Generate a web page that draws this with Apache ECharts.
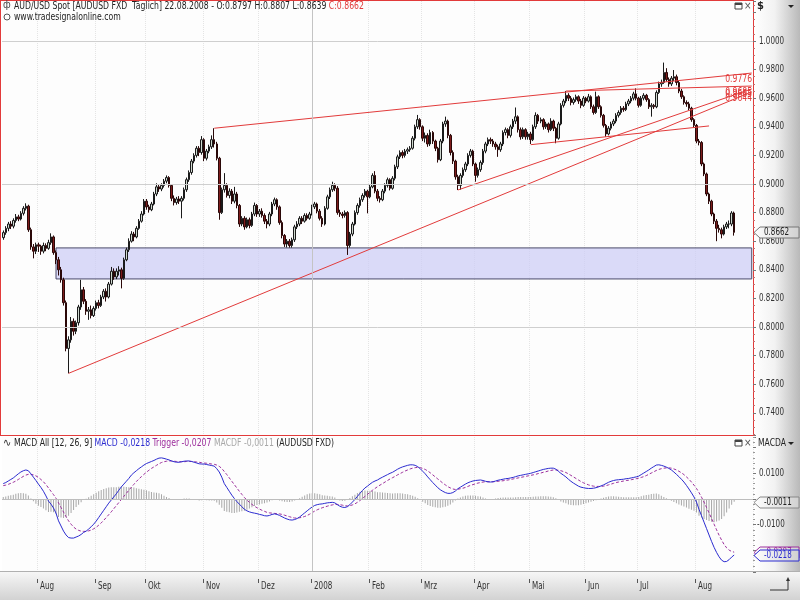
<!DOCTYPE html>
<html><head><meta charset="utf-8">
<script src="https://cdn.jsdelivr.net/npm/echarts@6/dist/echarts.min.js"></script>
<style>html,body{margin:0;padding:0;background:#fff}#c{width:800px;height:600px}</style>
</head><body><div id="c"></div>
<script>
// ---------- DATA ----------
const startDay = '2007-07-12';
const slotCount = 299;
const openP = [
.8625,.8660,.8690,.8720,.8705,.8745,.8770,.8755,.8795,.8830,
.8845,.8680,.8560,.8530,.8575,.8565,.8530,.8570,.8550,.8590,
.8630,.8520,.8470,.8400,.8330,.8170,.7850,.7910,.8040,.7970,
.8030,.8140,.8260,.8180,.8110,.8120,.8080,.8130,.8170,.8150,
.8210,.8250,.8210,.8300,.8390,.8350,.8390,.8400,.8340,.8470,
.8540,.8600,.8650,.8630,.8690,.8740,.8790,.8880,.8840,.8820,
.8860,.8930,.8980,.8965,.8990,.9020,.9045,.8990,.8900,.8870,
.8895,.8880,.8900,.8960,.9030,.9080,.9160,.9200,.9250,.9220,
.9310,.9180,.9230,.9260,.9310,.9280,.9180,.8800,.8960,.8990,
.8920,.8950,.8880,.8930,.8850,.8720,.8760,.8700,.8750,.8710,
.8790,.8850,.8790,.8810,.8780,.8740,.8720,.8790,.8860,.8890,
.8840,.8730,.8640,.8580,.8600,.8570,.8610,.8700,.8720,.8760,
.8740,.8780,.8760,.8790,.8840,.8860,.8810,.8760,.8720,.8830,
.8910,.8960,.8990,.8970,.8800,.8790,.8780,.8800,.8570,.8650,
.8720,.8800,.8850,.8890,.8920,.8950,.8910,.8980,.9060,.8950,
.8900,.8890,.8950,.8990,.9030,.8970,.9040,.9120,.9190,.9220,
.9200,.9230,.9240,.9250,.9320,.9400,.9450,.9400,.9320,.9340,
.9280,.9360,.9300,.9250,.9170,.9300,.9420,.9440,.9340,.9220,
.9160,.9050,.8990,.9060,.9100,.9140,.9200,.9230,.9140,.9060,
.9100,.9150,.9230,.9280,.9310,.9300,.9280,.9260,.9240,.9280,
.9360,.9380,.9340,.9400,.9440,.9470,.9380,.9330,.9380,.9330,
.9350,.9310,.9400,.9480,.9440,.9450,.9400,.9420,.9380,.9440,
.9390,.9320,.9420,.9550,.9580,.9620,.9600,.9570,.9590,.9610,
.9580,.9550,.9600,.9580,.9610,.9540,.9500,.9610,.9540,.9480,
.9410,.9350,.9390,.9420,.9440,.9480,.9500,.9530,.9520,.9560,
.9580,.9600,.9630,.9600,.9550,.9600,.9620,.9590,.9540,.9550,
.9540,.9640,.9700,.9710,.9780,.9730,.9700,.9740,.9750,.9710,
.9650,.9610,.9570,.9560,.9530,.9450,.9410,.9300,.9290,.9140,
.9070,.8930,.8880,.8790,.8740,.8690,.8680,.8650,.8700,.8720,
.8720,.8797];
const closeP = [
.8660,.8690,.8720,.8705,.8745,.8770,.8755,.8795,.8830,.8845,
.8680,.8560,.8530,.8575,.8565,.8530,.8570,.8550,.8590,.8630,
.8520,.8470,.8400,.8330,.8170,.7850,.7910,.8040,.7970,.8030,
.8140,.8260,.8180,.8110,.8120,.8080,.8130,.8170,.8150,.8210,
.8250,.8210,.8300,.8390,.8350,.8390,.8400,.8340,.8470,.8540,
.8600,.8650,.8630,.8690,.8740,.8790,.8880,.8840,.8820,.8860,
.8930,.8980,.8965,.8990,.9020,.9045,.8990,.8900,.8870,.8895,
.8880,.8900,.8960,.9030,.9080,.9160,.9200,.9250,.9220,.9310,
.9180,.9230,.9260,.9310,.9280,.9180,.8800,.8960,.8990,.8920,
.8950,.8880,.8930,.8850,.8720,.8760,.8700,.8750,.8710,.8790,
.8850,.8790,.8810,.8780,.8740,.8720,.8790,.8860,.8890,.8840,
.8730,.8640,.8580,.8600,.8570,.8610,.8700,.8720,.8760,.8740,
.8780,.8760,.8790,.8840,.8860,.8810,.8760,.8720,.8830,.8910,
.8960,.8990,.8970,.8800,.8790,.8780,.8800,.8570,.8650,.8720,
.8800,.8850,.8890,.8920,.8950,.8910,.8980,.9060,.8950,.8900,
.8890,.8950,.8990,.9030,.8970,.9040,.9120,.9190,.9220,.9200,
.9230,.9240,.9250,.9320,.9400,.9450,.9400,.9320,.9340,.9280,
.9360,.9300,.9250,.9170,.9300,.9420,.9440,.9340,.9220,.9160,
.9050,.8990,.9060,.9100,.9140,.9200,.9230,.9140,.9060,.9100,
.9150,.9230,.9280,.9310,.9300,.9280,.9260,.9240,.9280,.9360,
.9380,.9340,.9400,.9440,.9470,.9380,.9330,.9380,.9330,.9350,
.9310,.9400,.9480,.9440,.9450,.9400,.9420,.9380,.9440,.9390,
.9320,.9420,.9550,.9580,.9620,.9600,.9570,.9590,.9610,.9580,
.9550,.9600,.9580,.9610,.9540,.9500,.9610,.9540,.9480,.9410,
.9350,.9390,.9420,.9440,.9480,.9500,.9530,.9520,.9560,.9580,
.9600,.9630,.9600,.9550,.9600,.9620,.9590,.9540,.9550,.9540,
.9640,.9700,.9710,.9780,.9730,.9700,.9740,.9750,.9710,.9650,
.9610,.9570,.9560,.9530,.9450,.9410,.9300,.9290,.9140,.9070,
.8930,.8880,.8790,.8740,.8690,.8680,.8650,.8700,.8720,.8720,
.8797,.8662];
const lowP = [
.8610,.8645,.8670,.8685,.8690,.8730,.8740,.8745,.8780,.8815,
.8665,.8540,.8480,.8510,.8525,.8505,.8515,.8530,.8540,.8575,
.8505,.8440,.8360,.8310,.8150,.7830,.7676,.7890,.7940,.7950,
.8010,.8120,.8160,.8085,.8050,.8060,.8070,.8115,.8130,.8140,
.8195,.8178,.8200,.8290,.8330,.8335,.8360,.8270,.8330,.8460,
.8525,.8590,.8600,.8620,.8680,.8730,.8780,.8820,.8800,.8810,
.8850,.8915,.8945,.8950,.8975,.9005,.8975,.8880,.8850,.8855,
.8860,.8760,.8885,.8945,.9015,.9065,.9145,.9185,.9195,.9205,
.9160,.9165,.9215,.9245,.9255,.9165,.8750,.8790,.8940,.8905,
.8900,.8860,.8865,.8830,.8700,.8705,.8680,.8690,.8690,.8700,
.8775,.8770,.8770,.8765,.8720,.8690,.8705,.8775,.8845,.8820,
.8715,.8620,.8560,.8556,.8555,.8555,.8595,.8685,.8705,.8720,
.8730,.8745,.8750,.8780,.8825,.8795,.8745,.8700,.8710,.8820,
.8895,.8945,.8950,.8785,.8770,.8760,.8765,.8504,.8555,.8635,
.8710,.8785,.8835,.8875,.8905,.8795,.8900,.8970,.8935,.8880,
.8870,.8880,.8935,.8975,.8955,.8960,.9025,.9105,.9175,.9180,
.9185,.9210,.9225,.9240,.9305,.9385,.9380,.9300,.9290,.9260,
.9265,.9280,.9230,.9150,.9160,.9285,.9400,.9320,.9200,.9140,
.9030,.8958,.8960,.9045,.9085,.9125,.9185,.9125,.9016,.9045,
.9085,.9135,.9215,.9265,.9280,.9260,.9240,.9190,.9225,.9265,
.9340,.9320,.9325,.9385,.9420,.9360,.9310,.9315,.9310,.9310,
.9280,.9300,.9385,.9420,.9425,.9380,.9385,.9360,.9370,.9370,
.9285,.9310,.9410,.9535,.9565,.9580,.9550,.9555,.9575,.9560,
.9530,.9540,.9565,.9570,.9525,.9485,.9490,.9525,.9465,.9395,
.9330,.9340,.9375,.9405,.9425,.9465,.9485,.9505,.9510,.9545,
.9565,.9585,.9585,.9535,.9540,.9585,.9575,.9525,.9471,.9525,
.9530,.9630,.9680,.9700,.9715,.9680,.9685,.9720,.9690,.9635,
.9595,.9555,.9540,.9515,.9435,.9395,.9285,.9270,.9125,.9055,
.8915,.8860,.8775,.8720,.8600,.8660,.8620,.8640,.8685,.8690,
.8705,.8639];
const highP = [
.8675,.8705,.8735,.8740,.8760,.8790,.8785,.8810,.8845,.8865,
.8855,.8695,.8580,.8590,.8590,.8575,.8590,.8585,.8610,.8655,
.8640,.8535,.8490,.8420,.8345,.8185,.7935,.8070,.8060,.8045,
.8155,.8330,.8280,.8195,.8140,.8150,.8145,.8185,.8190,.8225,
.8265,.8270,.8315,.8420,.8410,.8410,.8425,.8415,.8485,.8555,
.8620,.8670,.8665,.8705,.8755,.8810,.8895,.8895,.8855,.8875,
.8945,.9005,.8995,.9005,.9035,.9060,.9055,.9000,.8920,.8910,
.8915,.8915,.8975,.9045,.9095,.9175,.9215,.9265,.9265,.9335,
.9320,.9245,.9275,.9340,.9390,.9295,.9190,.8975,.9076,.9005,
.8970,.8965,.8980,.8945,.8860,.8775,.8775,.8765,.8765,.8805,
.8870,.8860,.8825,.8830,.8795,.8755,.8805,.8875,.8905,.8900,
.8850,.8745,.8650,.8615,.8615,.8625,.8715,.8740,.8775,.8775,
.8795,.8795,.8805,.8855,.8875,.8870,.8825,.8775,.8845,.8925,
.8975,.9016,.9005,.8985,.8820,.8805,.8815,.8810,.8665,.8735,
.8815,.8865,.8905,.8935,.8965,.8960,.8995,.9075,.9090,.8965,
.8915,.8965,.9005,.9045,.9040,.9055,.9135,.9205,.9235,.9235,
.9245,.9255,.9265,.9335,.9415,.9483,.9460,.9410,.9360,.9355,
.9380,.9370,.9310,.9260,.9315,.9435,.9471,.9450,.9350,.9235,
.9170,.9065,.9075,.9115,.9155,.9215,.9245,.9240,.9150,.9115,
.9165,.9245,.9295,.9325,.9325,.9315,.9295,.9275,.9295,.9375,
.9395,.9390,.9415,.9455,.9535,.9480,.9395,.9395,.9390,.9365,
.9365,.9415,.9501,.9490,.9465,.9460,.9435,.9430,.9460,.9450,
.9400,.9435,.9565,.9595,.9650,.9635,.9615,.9605,.9625,.9620,
.9595,.9615,.9610,.9630,.9620,.9555,.9646,.9620,.9550,.9490,
.9420,.9405,.9435,.9455,.9495,.9515,.9545,.9545,.9575,.9595,
.9615,.9645,.9669,.9610,.9615,.9635,.9630,.9600,.9565,.9560,
.9655,.9716,.9730,.9849,.9810,.9745,.9755,.9797,.9765,.9720,
.9665,.9620,.9585,.9575,.9540,.9460,.9420,.9315,.9300,.9150,
.9080,.8940,.8890,.8800,.8755,.8715,.8695,.8715,.8735,.8745,
.8810,.8807];
const macdLine = [
.0060,.0064,.0070,.0076,.0082,.0090,.0098,.0105,.0110,.0113,
.0110,.0098,.0085,.0072,.0058,.0045,.0030,.0012,-.0008,-.0020,
-.0035,-.0055,-.0085,-.0105,-.0125,-.0140,-.0150,-.0152,-.0152,-.0148,
-.0144,-.0138,-.0130,-.0125,-.0117,-.0108,-.0098,-.0086,-.0072,-.0058,
-.0044,-.0030,-.0016,-.0004,.0008,.0020,.0034,.0047,.0058,.0069,
.0080,.0093,.0102,.0110,.0118,.0125,.0132,.0138,.0142,.0146,
.0150,.0155,.0159,.0160,.0158,.0155,.0152,.0148,.0145,.0143,
.0143,.0145,.0147,.0148,.0148,.0146,.0143,.0140,.0137,.0136,
.0136,.0134,.0132,.0130,.0128,.0118,.0105,.0085,.0060,.0045,
.0030,.0015,.0002,-.0010,-.0020,-.0030,-.0040,-.0046,-.0050,-.0053,
-.0055,-.0057,-.0060,-.0062,-.0065,-.0066,-.0064,-.0060,-.0058,-.0060,
-.0064,-.0069,-.0074,-.0078,-.0081,-.0082,-.0080,-.0076,-.0070,-.0062,
-.0054,-.0046,-.0038,-.0031,-.0025,-.0022,-.0020,-.0019,-.0017,-.0015,
-.0014,-.0013,-.0015,-.0022,-.0028,-.0032,-.0033,-.0030,-.0022,-.0012,
-.0002,.0010,.0022,.0033,.0043,.0050,.0058,.0065,.0070,.0074,
.0080,.0085,.0090,.0095,.0100,.0104,.0110,.0116,.0121,.0125,
.0128,.0131,.0133,.0133,.0131,.0126,.0118,.0108,.0098,.0086,
.0075,.0064,.0054,.0044,.0036,.0030,.0025,.0022,.0022,.0025,
.0031,.0040,.0046,.0052,.0058,.0063,.0067,.0070,.0072,.0073,
.0074,.0072,.0069,.0067,.0066,.0067,.0070,.0073,.0075,.0077,
.0079,.0080,.0082,.0084,.0087,.0090,.0092,.0094,.0096,.0098,
.0100,.0103,.0106,.0109,.0112,.0115,.0117,.0119,.0120,.0120,
.0116,.0108,.0100,.0093,.0086,.0077,.0069,.0062,.0056,.0050,
.0046,.0044,.0042,.0041,.0041,.0042,.0044,.0047,.0051,.0055,
.0060,.0065,.0069,.0072,.0074,.0075,.0076,.0077,.0079,.0080,
.0082,.0084,.0086,.0089,.0095,.0101,.0107,.0113,.0120,.0126,
.0132,.0133,.0131,.0128,.0124,.0119,.0113,.0105,.0096,.0087,
.0077,.0066,.0053,.0039,.0024,.0008,-.0012,-.0040,-.0065,-.0090,
-.0115,-.0140,-.0165,-.0188,-.0208,-.0225,-.0238,-.0244,-.0243,-.0236,
-.0226,-.0218];
const triggerLine = [
.0052,.0054,.0057,.0061,.0065,.0070,.0076,.0082,.0088,.0093,
.0096,.0096,.0094,.0090,.0084,.0076,.0067,.0056,.0043,.0030,
.0017,.0003,-.0015,-.0033,-.0051,-.0069,-.0085,-.0098,-.0109,-.0117,
-.0122,-.0125,-.0126,-.0126,-.0124,-.0121,-.0116,-.0110,-.0102,-.0093,
-.0083,-.0072,-.0061,-.0050,-.0038,-.0026,-.0014,-.0002,.0010,.0022,
.0034,.0046,.0057,.0068,.0078,.0087,.0096,.0104,.0112,.0119,
.0125,.0131,.0137,.0142,.0145,.0147,.0148,.0148,.0147,.0146,
.0145,.0145,.0145,.0146,.0146,.0146,.0145,.0144,.0143,.0141,
.0140,.0139,.0138,.0136,.0135,.0132,.0127,.0119,.0107,.0095,
.0082,.0069,.0056,.0043,.0030,.0018,.0006,-.0004,-.0013,-.0021,
-.0028,-.0034,-.0039,-.0044,-.0048,-.0052,-.0054,-.0055,-.0056,-.0057,
-.0058,-.0060,-.0063,-.0066,-.0069,-.0072,-.0074,-.0074,-.0073,-.0071,
-.0068,-.0064,-.0059,-.0053,-.0047,-.0042,-.0038,-.0034,-.0031,-.0028,
-.0025,-.0023,-.0021,-.0021,-.0022,-.0024,-.0026,-.0027,-.0026,-.0023,
-.0019,-.0013,-.0006,.0002,.0010,.0018,.0026,.0034,.0041,.0048,
.0054,.0060,.0066,.0072,.0078,.0083,.0088,.0094,.0099,.0104,
.0109,.0113,.0117,.0120,.0122,.0123,.0122,.0119,.0115,.0109,
.0102,.0094,.0086,.0078,.0070,.0062,.0055,.0048,.0043,.0039,
.0037,.0038,.0040,.0042,.0045,.0049,.0053,.0056,.0059,.0062,
.0064,.0066,.0067,.0067,.0067,.0067,.0068,.0069,.0070,.0071,
.0073,.0074,.0076,.0078,.0080,.0082,.0084,.0086,.0088,.0090,
.0092,.0094,.0096,.0099,.0101,.0104,.0106,.0109,.0111,.0113,
.0113,.0112,.0110,.0107,.0103,.0098,.0092,.0086,.0080,.0074,
.0068,.0063,.0059,.0055,.0052,.0050,.0049,.0049,.0049,.0050,
.0052,.0055,.0058,.0061,.0064,.0066,.0068,.0070,.0072,.0073,
.0075,.0077,.0079,.0081,.0084,.0087,.0091,.0096,.0101,.0106,
.0111,.0115,.0118,.0120,.0121,.0121,.0120,.0117,.0113,.0108,
.0102,.0095,.0086,.0077,.0066,.0054,.0041,.0025,.0007,-.0012,
-.0033,-.0054,-.0076,-.0098,-.0120,-.0141,-.0160,-.0177,-.0190,-.0199,
-.0204,-.0207];
const macdHist = [
.0008,.0010,.0013,.0015,.0017,.0020,.0022,.0023,.0022,.0020,
.0014,.0002,-.0009,-.0018,-.0026,-.0031,-.0037,-.0044,-.0051,-.0050,
-.0052,-.0058,-.0070,-.0072,-.0074,-.0071,-.0065,-.0054,-.0043,-.0031,
-.0022,-.0013,-.0004,.0001,.0007,.0013,.0018,.0024,.0030,.0035,
.0039,.0042,.0045,.0046,.0046,.0046,.0048,.0049,.0048,.0047,
.0046,.0047,.0045,.0042,.0040,.0038,.0036,.0034,.0030,.0027,
.0025,.0024,.0022,.0018,.0013,.0008,.0004,.0000,-.0002,-.0003,
-.0002,.0000,.0002,.0002,.0002,.0000,-.0002,-.0004,-.0006,-.0005,
-.0004,-.0005,-.0006,-.0006,-.0007,-.0014,-.0022,-.0034,-.0047,-.0050,
-.0052,-.0054,-.0054,-.0053,-.0050,-.0048,-.0046,-.0042,-.0037,-.0032,
-.0027,-.0023,-.0021,-.0018,-.0017,-.0014,-.0010,-.0005,-.0002,-.0003,
-.0006,-.0009,-.0011,-.0012,-.0012,-.0010,-.0006,-.0002,.0003,.0009,
.0014,.0018,.0021,.0022,.0022,.0020,.0018,.0015,.0014,.0013,
.0011,.0010,.0006,-.0001,-.0006,-.0008,-.0007,-.0003,.0004,.0011,
.0017,.0023,.0028,.0031,.0033,.0032,.0032,.0031,.0029,.0026,
.0026,.0025,.0024,.0023,.0022,.0021,.0022,.0022,.0022,.0021,
.0019,.0018,.0016,.0013,.0009,.0003,-.0004,-.0011,-.0017,-.0023,
-.0027,-.0030,-.0032,-.0034,-.0034,-.0032,-.0030,-.0026,-.0021,-.0014,
-.0006,.0002,.0006,.0010,.0013,.0014,.0014,.0014,.0013,.0011,
.0010,.0006,.0002,.0000,-.0001,.0000,.0002,.0004,.0005,.0006,
.0006,.0006,.0006,.0006,.0007,.0008,.0008,.0008,.0008,.0008,
.0008,.0009,.0010,.0010,.0011,.0011,.0011,.0010,.0009,.0007,
.0003,-.0004,-.0010,-.0014,-.0017,-.0021,-.0023,-.0024,-.0024,-.0024,
-.0022,-.0019,-.0017,-.0014,-.0011,-.0008,-.0005,-.0002,.0002,.0005,
.0008,.0010,.0011,.0011,.0010,.0009,.0008,.0007,.0007,.0007,
.0007,.0007,.0007,.0008,.0011,.0014,.0016,.0017,.0019,.0020,
.0021,.0018,.0013,.0008,.0003,-.0002,-.0007,-.0012,-.0017,-.0021,
-.0025,-.0029,-.0033,-.0038,-.0042,-.0046,-.0053,-.0065,-.0072,-.0078,
-.0082,-.0086,-.0089,-.0090,-.0088,-.0084,-.0078,-.0067,-.0053,-.0037,
-.0022,-.0011];
const priceTicks = [1.00, 0.98, 0.96, 0.94, 0.92, 0.90, 0.88, 0.86, 0.84, 0.82, 0.80, 0.78, 0.76, 0.74];
const macdTicks = [0.01, -0.01];
const guideLevels = [1.0, 0.9, 0.8];
const zoneBox = {fromIdx: 21, toIdx: 298, top: 0.8553, bottom: 0.8336};
const trendLines = [
  {from: [84, 0.9390], to: [298, 0.9776], label: true},
  {from: [224, 0.9650], to: [298, 0.9685], label: true},
  {from: [181, 0.8958], to: [298, 0.9665], label: true},
  {from: [26, 0.7676], to: [298, 0.9644], label: true},
  {from: [210, 0.9275], to: [281, 0.9406], label: false}
];
const monthNames = ['2008','Feb','Mrz','Apr','Mai','Jun','Jul','Aug','Sep','Okt','Nov','Dez'];
const titleText = 'AUD/USD Spot [AUDUSD FXD  Täglich] 22.08.2008 - O:0.8797 H:0.8807 L:0.8639 ';
const titleClose = 'C:0.8662';
const macdInfo = {head: 'MACD All [12, 26, 9] ', macd: 'MACD -0,0218', trig: ' Trigger -0,0207', hist: ' MACDF -0,0011', tail: ' (AUDUSD FXD)'};

// ---------- BUILD ----------
function buildDates() {
  const p = startDay.split('-').map(Number);
  const d = new Date(Date.UTC(p[0], p[1]-1, p[2]));
  const out = [];
  while (out.length < slotCount) {
    const w = d.getUTCDay();
    if (w !== 0 && w !== 6) out.push(d.toISOString().slice(0,10));
    d.setUTCDate(d.getUTCDate()+1);
  }
  return out;
}
const dates = buildDates();
const N = closeP.length;
const monthStart = [];
for (let i = 1; i < N; i++) if (dates[i].slice(5,7) !== dates[i-1].slice(5,7)) monthStart.push(i);
const monthSet = new Set(monthStart);
const yearIdx = monthStart.find(i => dates[i].slice(5,7) === '01');
const candleData = closeP.map((c, i) => [openP[i], c, lowP[i], highP[i]]);
function monthLabel(v) { const m = +v.slice(5,7); return m === 1 ? monthNames[0] : monthNames[m-1]; }

const FONT = '"Liberation Sans Narrow","DejaVu Sans Condensed","Liberation Sans",sans-serif';
const RED = '#E23B3B';
const SX = 0.8, SXT = 0.86;

const PX_PER_UNIT = 1430, PRICE_ONE_Y = 41, G0_TOP = 1, G0_H = 434;
const pMax = 1 + (PRICE_ONE_Y - G0_TOP) / PX_PER_UNIT;
const pMin = 1 - (G0_TOP + G0_H - PRICE_ONE_Y) / PX_PER_UNIT;
const M_PX = 2570, M_ZERO_Y = 499, G1_TOP = 437, G1_H = 135;
const mMax = (M_ZERO_Y - G1_TOP) / M_PX;
const mMin = -(G1_TOP + G1_H - M_ZERO_Y) / M_PX;

const catAxis = (gi) => ({
  type: 'category', gridIndex: gi, data: dates, boundaryGap: true,
  axisLine: {show: false}, axisTick: {show: false}, axisLabel: {show: false},
  splitLine: {show: true, interval: (i) => monthSet.has(i) && i !== yearIdx, lineStyle: {color: '#E4E4E4', type: [1, 1]}}
});

const option = {
  animation: false,
  backgroundColor: '#FFFFFF',
  grid: [
    {left: 2, top: G0_TOP, width: 751, height: G0_H, backgroundColor: '#FDFDFD', show: true, borderWidth: 0},
    {left: 2, top: G1_TOP, width: 751, height: G1_H, backgroundColor: '#FDFDFD', show: true, borderWidth: 0}
  ],
  xAxis: [catAxis(0), catAxis(1)],
  yAxis: [
    {type: 'value', gridIndex: 0, position: 'right', min: pMin, max: pMax, splitNumber: 15, minInterval: 0.02, maxInterval: 0.02,
      axisLine: {show: true, lineStyle: {color: RED, width: 1}},
      axisTick: {show: true, length: 3, lineStyle: {color: '#777'}},
      minorTick: {show: true, splitNumber: 4, length: 2, lineStyle: {color: '#C07070'}},
      splitLine: {show: false}, axisLabel: {show: false}},
    {type: 'value', gridIndex: 1, position: 'right', min: mMin, max: mMax, splitNumber: 5,
      axisLine: {show: false},
      axisTick: {show: true, length: 3, lineStyle: {color: '#777'}},
      minorTick: {show: true, splitNumber: 5, length: 2, lineStyle: {color: '#999'}},
      splitLine: {show: false}, axisLabel: {show: false}}
  ],
  series: [
    {type: 'candlestick', xAxisIndex: 0, yAxisIndex: 0, data: candleData, barWidth: 2,
      itemStyle: {color: '#CFD8CF', color0: '#7E1C1C', borderColor: '#1A1A1A', borderColor0: '#2A0808', borderWidth: 1},
      markLine: {silent: true, symbol: 'none', label: {show: false},
        data: guideLevels.map(v => ({yAxis: v, lineStyle: {color: '#CFCFCF', type: 'solid', width: 1}}))
          .concat([{xAxis: dates[yearIdx], lineStyle: {color: '#C4C4C4', type: 'solid', width: 1}}])},
      markArea: {silent: true, itemStyle: {color: 'rgba(205,205,245,0.75)', borderColor: '#4A4A6A', borderWidth: 1},
        data: [[{xAxis: dates[zoneBox.fromIdx], yAxis: zoneBox.top}, {xAxis: dates[zoneBox.toIdx], yAxis: zoneBox.bottom}]]}
    },
    ...trendLines.map(t => ({type: 'line', xAxisIndex: 0, yAxisIndex: 0, silent: true, showSymbol: false, z: 3,
      lineStyle: {color: RED, width: 1}, data: [[dates[t.from[0]], t.from[1]], [dates[t.to[0]], t.to[1]]]})),
    {type: 'bar', xAxisIndex: 1, yAxisIndex: 1, data: macdHist, barWidth: 1, itemStyle: {color: '#A8A8A8'},
      markLine: {silent: true, symbol: 'none', label: {show: false},
        data: [{yAxis: 0, lineStyle: {color: '#BDBDBD', type: 'solid', width: 1}},
               {xAxis: dates[yearIdx], lineStyle: {color: '#C4C4C4', type: 'solid', width: 1}}]}},
    {type: 'line', xAxisIndex: 1, yAxisIndex: 1, data: triggerLine, showSymbol: false, lineStyle: {color: '#9C2E9C', width: 1, type: [3, 2]}},
    {type: 'line', xAxisIndex: 1, yAxisIndex: 1, data: macdLine, showSymbol: false, lineStyle: {color: '#2B2BD0', width: 1}}
  ]
};

const chart = echarts.init(document.getElementById('c'));
chart.setOption(option);

// ---------- OVERLAY TEXT / FRAME ----------
const toPx = (gi, i, v) => chart.convertToPixel({gridIndex: gi}, [dates[i], v]);
const g = [];
function txt(x, y, text, o) {
  o = o || {};
  g.push({type: 'text', z: o.z || 60, x: x, y: y, scaleX: o.sx || SX,
    style: Object.assign({text: text, fill: o.fill || '#222', fontFamily: FONT, fontSize: o.size || 10,
      align: o.align || 'left', verticalAlign: o.va || 'middle'}, o.style || {})});
}
// backgrounds
g.push({type: 'rect', z: -10, shape: {x: 754, y: 0, width: 46, height: 572},
  style: {fill: new echarts.graphic.LinearGradient(0, 0, 1, 0, [{offset: 0, color: '#FFFFFF'}, {offset: 0.45, color: '#F2F2F2'}, {offset: 1, color: '#B9B9B9'}])}});
g.push({type: 'rect', z: -10, shape: {x: 0, y: 572, width: 800, height: 28},
  style: {fill: new echarts.graphic.LinearGradient(0, 0, 0, 1, [{offset: 0, color: '#F6F6F6'}, {offset: 1, color: '#D2D2D2'}])}});
// frame lines
g.push({type: 'line', z: 50, shape: {x1: 0, y1: 0.5, x2: 754, y2: 0.5}, style: {stroke: RED, lineWidth: 1}});
g.push({type: 'line', z: 50, shape: {x1: 0.5, y1: 0, x2: 0.5, y2: 436}, style: {stroke: RED, lineWidth: 1}});
g.push({type: 'line', z: 50, shape: {x1: 0, y1: 435.5, x2: 754, y2: 435.5}, style: {stroke: RED, lineWidth: 1}});
g.push({type: 'line', z: 50, shape: {x1: 0, y1: 571.5, x2: 800, y2: 571.5}, style: {stroke: '#B0B0B0', lineWidth: 1}});
// titles
g.push({type: 'text', z: 60, x: 14, y: 1, scaleX: SXT, style: {text: '{a|' + titleText + '}{b|' + titleClose + '}', fontFamily: FONT, fontSize: 10,
  rich: {a: {fill: '#222', fontFamily: FONT, fontSize: 10}, b: {fill: RED, fontFamily: FONT, fontSize: 10}}}});
g.push({type: 'text', z: 60, x: 14, y: 12, scaleX: SXT, style: {text: 'www.tradesignalonline.com', fill: '#222', fontFamily: FONT, fontSize: 10}});
g.push({type: 'text', z: 60, x: 3, y: 0, style: {text: 'ф', fill: '#444', fontFamily: FONT, fontSize: 10}});
g.push({type: 'circle', z: 60, shape: {cx: 7, cy: 17, r: 3}, style: {fill: '#FFF', stroke: '#555', lineWidth: 1}});
g.push({type: 'text', z: 60, x: 14, y: 438, scaleX: SXT, style: {text: '{a|' + macdInfo.head + '}{m|' + macdInfo.macd + '}{t|' + macdInfo.trig + '}{h|' + macdInfo.hist + '}{a|' + macdInfo.tail + '}',
  fontFamily: FONT, fontSize: 10, rich: {a: {fill: '#222', fontFamily: FONT, fontSize: 10}, m: {fill: '#2B2BD0', fontFamily: FONT, fontSize: 10},
  t: {fill: '#9C2E9C', fontFamily: FONT, fontSize: 10}, h: {fill: '#A8A8A8', fontFamily: FONT, fontSize: 10}}}});
g.push({type: 'text', z: 60, x: 3, y: 438, style: {text: '∿', fill: '#333', fontFamily: FONT, fontSize: 11}});
// axis titles
txt(757, 6, '$', {size: 11, sx: 1, style: {fontWeight: 'bold'}});
g.push({type: 'polygon', z: 60, shape: {points: [[788, 5], [794, 5], [791, 8]]}, style: {fill: '#222'}});
txt(758, 443, 'MACDA', {sx: 0.85});
g.push({type: 'polygon', z: 60, shape: {points: [[788, 442], [794, 442], [791, 445]]}, style: {fill: '#222'}});
// window icons
[[735, 3], [735, 440]].forEach(([x, y]) => {
  g.push({type: 'rect', z: 60, shape: {x: x, y: y, width: 7, height: 6}, style: {fill: '#FFF', stroke: '#444', lineWidth: 1}});
  g.push({type: 'rect', z: 60, shape: {x: x, y: y, width: 7, height: 2}, style: {fill: '#444'}});
  g.push({type: 'text', z: 60, x: x + 9, y: y - 2, style: {text: '×', fill: '#555', fontFamily: FONT, fontSize: 10}});
});
// price axis labels
priceTicks.forEach(v => txt(759, toPx(0, 0, v)[1], v.toFixed(4), {fill: '#333'}));
macdTicks.forEach(v => txt(v < 0 ? 757 : 759, toPx(1, 0, v)[1], v.toFixed(4), {fill: '#333'}));
// month labels + ticks
const slotW = toPx(1, 1, 0)[0] - toPx(1, 0, 0)[0];
monthStart.forEach(i => {
  const x = Math.round(toPx(1, i, 0)[0] - slotW / 2) + 0.5;
  g.push({type: 'line', z: 60, shape: {x1: x, y1: 579, x2: x, y2: 583}, style: {stroke: '#555', lineWidth: 1}});
  txt(x + 2.5, 586, monthLabel(dates[i]), {fill: '#333'});
});
// trend line labels
trendLines.filter(t => t.label).forEach(t => {
  const p = toPx(0, t.to[0], t.to[1]);
  txt(752, p[1] + 1, t.to[1].toFixed(4), {fill: RED, align: 'right', va: 'top', sx: 0.85});
});
// value markers on the axis (later ones drawn on top)
let mz = 70;
function marker(gi, v, stroke, color) {
  const y = Math.round(toPx(gi, 0, v)[1]) + 0.5;
  g.push({type: 'polygon', z: mz, shape: {points: [[754, y], [760, y - 5.5], [799, y - 5.5], [799, y + 5.5], [760, y + 5.5]]},
    style: {fill: new echarts.graphic.LinearGradient(0, 0, 1, 0, [{offset: 0, color: '#FFFFFF'}, {offset: 1, color: '#D0D0D0'}]), stroke: stroke, lineWidth: 1}});
  txt(764, y, v.toFixed(4), {fill: color, z: mz + 1});
  mz += 2;
}
marker(0, closeP[N - 1], '#777', '#222');
marker(1, macdHist[N - 1], '#888', '#222');
marker(1, triggerLine[N - 1], '#9C2E9C', '#9C2E9C');
marker(1, macdLine[N - 1], '#2B2BD0', '#2B2BD0');
// corner icon
g.push({type: 'polyline', z: 60, shape: {points: [[770, 590], [788, 590], [788, 580]]}, style: {stroke: '#333', lineWidth: 1, fill: null}});
g.push({type: 'polygon', z: 60, shape: {points: [[786, 581], [790, 581], [788, 577]]}, style: {fill: '#333'}});
chart.setOption({graphic: g});
</script></body></html>
